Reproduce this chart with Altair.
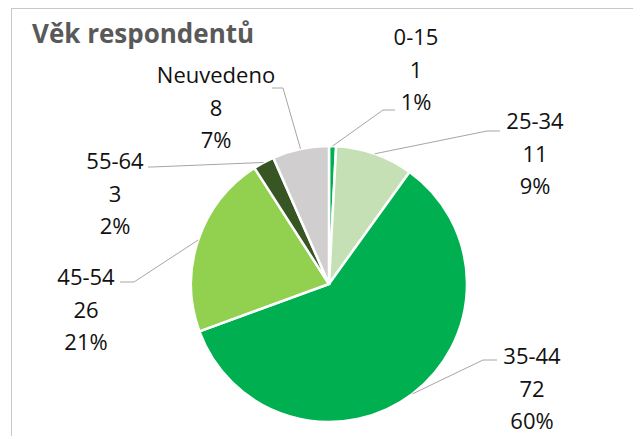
import altair as alt
import pandas as pd

# ---- data ----
categories = ["0-15", "25-34", "35-44", "45-54", "55-64", "Neuvedeno"]
counts = [1, 11, 72, 26, 3, 8]
title_text = "Věk respondentů"

# ---- styling ----
colors = ["#00B050", "#C5E0B4", "#00B050", "#92D050", "#375623", "#D0CECE"]

# ---- label layout (page pixels): first text line centre, leader elbow, leader end ----
label_x = [416, 535, 532, 86, 115, 216]
label_y = [38, 122, 357, 278, 162, 76]
elbow_x = [383, 487, 483, 134, 152, 283]
elbow_y = [110, 131, 360, 282, 167, 88]
end_x = [395, 500, 497, 120, 148, 272]
end_y = [110, 131, 360, 282, 167, 88]

MARGIN = 8
W, H = 625, 428
CX, CY, R = 329 - MARGIN, 284 - MARGIN, 138

df = pd.DataFrame({
    "cat": categories,
    "count": counts,
    "ord": list(range(len(categories))),
    "lx": [v - MARGIN for v in label_x],
    "ly": [v - MARGIN for v in label_y],
    "ex": [v - MARGIN for v in elbow_x],
    "ey": [v - MARGIN for v in elbow_y],
    "tx": [v - MARGIN for v in end_x],
    "ty": [v - MARGIN for v in end_y],
})

base = alt.Chart(df)

pie = base.mark_arc(outerRadius=R, stroke="white", strokeWidth=2.5).encode(
    theta=alt.Theta("count:Q", stack=True),
    order=alt.Order("ord:Q"),
    color=alt.Color("cat:N", scale=alt.Scale(domain=categories, range=colors), legend=None),
    x=alt.value(CX),
    y=alt.value(CY),
)

calc = base.transform_joinaggregate(
    total="sum(count)"
).transform_window(
    cum="sum(count)", sort=[alt.SortField("ord")], frame=[None, 0]
).transform_calculate(
    mid="2*PI*(datum.cum - datum.count/2)/datum.total",
    rx=f"{CX} + {R}*sin(datum.mid)",
    ry=f"{CY} - {R}*cos(datum.mid)",
    lbl="datum.cat + '\\n' + datum.count + '\\n' + round(100*datum.count/datum.total) + '%'",
)

seg1 = calc.mark_rule(color="#A6A6A6", strokeWidth=1).encode(
    x=alt.X("rx:Q", scale=None), y=alt.Y("ry:Q", scale=None),
    x2="ex:Q", y2="ey:Q",
)
seg2 = calc.mark_rule(color="#A6A6A6", strokeWidth=1).encode(
    x=alt.X("ex:Q", scale=None), y=alt.Y("ey:Q", scale=None),
    x2="tx:Q", y2="ty:Q",
)

labels = calc.mark_text(
    font="Open Sans", fontSize=22, lineHeight=32.5, align="center",
    baseline="middle", color="#111111", lineBreak="\n",
).encode(
    x=alt.X("lx:Q", scale=None), y=alt.Y("ly:Q", scale=None),
    text="lbl:N",
)

title = alt.Chart(pd.DataFrame({"t": [title_text]})).mark_text(
    font="Open Sans", fontSize=26, fontWeight="bold", color="#595959",
    align="left", baseline="alphabetic",
).encode(x=alt.value(32 - MARGIN), y=alt.value(43 - MARGIN), text="t:N")

frame_left = alt.Chart(pd.DataFrame({"a": [0]})).mark_rule(color="#C8C8C8", strokeWidth=1).encode(
    x=alt.value(11.5 - MARGIN), y=alt.value(0), y2=alt.value(H)
)
frame_top = alt.Chart(pd.DataFrame({"a": [0]})).mark_rule(color="#C8C8C8", strokeWidth=1).encode(
    x=alt.value(11.5 - MARGIN), x2=alt.value(W), y=alt.value(0.5)
)

chart = alt.layer(frame_left, frame_top, pie, seg1, seg2, labels, title).properties(
    width=W, height=H, padding=0, autosize=alt.AutoSizeParams(type="none")
).configure_view(stroke=None)

chart.save("out.html", embed_options={"renderer": "svg", "actions": False})
